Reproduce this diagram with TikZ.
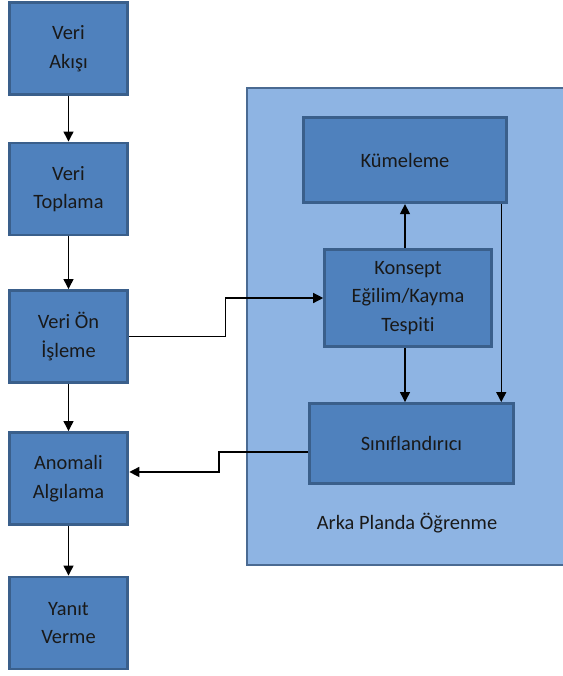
\documentclass[tikz,border=0pt]{standalone}
\usepackage{fontspec}
\setmainfont{Carlito}[Ligatures={NoCommon}]
\usetikzlibrary{arrows.meta}

\definecolor{kutu}{HTML}{4F81BD}
\definecolor{kutukenar}{HTML}{3A5F8B}
\definecolor{arka}{HTML}{8EB4E3}
\definecolor{arkakenar}{HTML}{4A6A92}

\begin{document}
\begin{tikzpicture}[x=0.75pt, y=-0.75pt,
    adim/.style={draw=kutukenar, fill=kutu, line width=2.2pt, inner sep=0pt,
        align=center, text=black!90, font=\fontsize{15.3}{21.5}\selectfont,
        minimum width=89pt, minimum height=69pt},
    ok/.style={-{Triangle[length=7.5pt,width=7.5pt]}, line width=1pt}]
    \useasboundingbox (0,0) rectangle (562,676);

    % arka planda calisan kisim
    \draw[fill=arka, draw=arkakenar, line width=1pt] (247,88) rectangle (566,565);
    \node[font=\fontsize{15.3}{21.5}\selectfont, text=black!90] (etiket) at (407,523) {Arka Planda Öğrenme};

    % ana akis
    \node[adim] (akis) at (68.5,48.5) {Veri\\Akışı};
    \node[adim] (toplama) at (68.5,189) {Veri\\Toplama};
    \node[adim] (onisleme) at (68.5,336.5) {Veri Ön\\İşleme};
    \node[adim] (anomali) at (68.5,478.5) {Anomali\\Algılama};
    \node[adim] (yanit) at (68.5,623) {Yanıt\\Verme};

    % ogrenme kutulari
    \node[adim, minimum width=152pt, minimum height=64pt] (kumeleme) at (405,160) {Kümeleme};
    \node[adim, minimum width=125pt, minimum height=73pt] (konsept) at (408,298) {Konsept\\Eğilim/Kayma\\Tespiti};
    \node[adim, minimum width=153pt, minimum height=60pt] (sinif) at (411.5,443.5) {Sınıflandırıcı};

    \draw[ok] (akis) -- (toplama);
    \draw[ok] (toplama) -- (onisleme);
    \draw[ok] (onisleme) -- (anomali);
    \draw[ok] (anomali) -- (yanit);

    \draw[ok] (onisleme.east) -- ++(96,0) |- (konsept.west);
    \draw[ok] (konsept.north -| kumeleme) -- (kumeleme.south);
    \draw[ok] (konsept.south -| kumeleme) -- (sinif.north -| kumeleme);
    \coordinate (kdus) at ([xshift=-4.9pt]kumeleme.south east);
    \draw[ok] (kdus) -- (kdus |- sinif.north);
    \draw[ok] ([yshift=-6.4pt]sinif.west) -- ++(-89,0) |- ([yshift=4.9pt]anomali.east);
\end{tikzpicture}
\end{document}
